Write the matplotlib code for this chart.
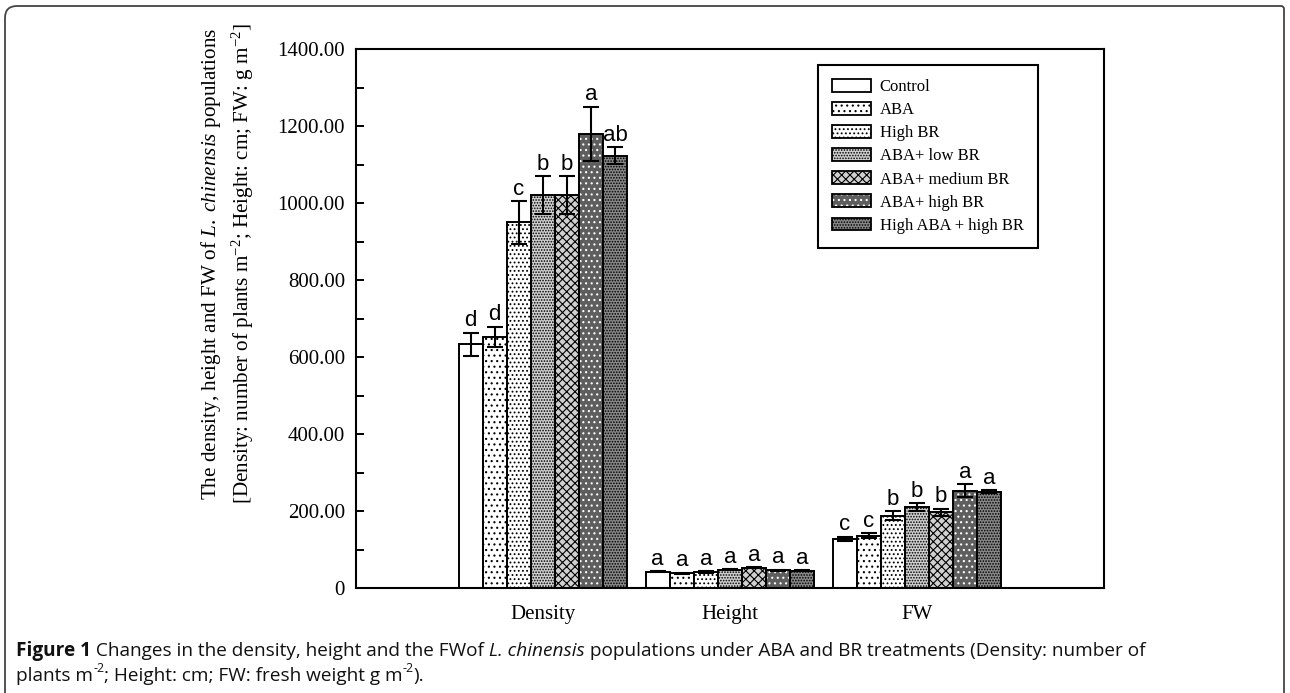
import matplotlib
matplotlib.use('Agg')
import matplotlib.pyplot as plt
import numpy as np
from matplotlib.patches import Patch, PathPatch
from matplotlib.path import Path
from matplotlib.ticker import MultipleLocator

# ---------------- data ----------------
categories = ['Density', 'Height', 'FW']
treatments = ['Control', 'ABA', 'High BR', 'ABA+ low BR', 'ABA+ medium BR',
              'ABA+ high BR', 'High ABA + high BR']

control = [633, 42, 127]
aba = [653, 38, 136]
high_br = [950, 41.6, 188]
aba_low_br = [1021, 47.6, 210]
aba_medium_br = [1021, 52.8, 197]
aba_high_br = [1180, 46, 253]
high_aba_high_br = [1123, 45, 250]

control_err = [31, 1.5, 6]
aba_err = [26, 1.5, 6]
high_br_err = [56, 1.5, 12]
aba_low_br_err = [50, 1.5, 10]
aba_medium_br_err = [50, 1.5, 9]
aba_high_br_err = [71, 1.5, 16]
high_aba_high_br_err = [22, 1.5, 4]

control_letters = ['d', 'a', 'c']
aba_letters = ['d', 'a', 'c']
high_br_letters = ['c', 'a', 'b']
aba_low_br_letters = ['b', 'a', 'b']
aba_medium_br_letters = ['b', 'a', 'b']
aba_high_br_letters = ['a', 'a', 'a']
high_aba_high_br_letters = ['ab', 'a', 'a']

y_ticks = [0, 200, 400, 600, 800, 1000, 1200, 1400]
y_tick_labels = ['0', '200.00', '400.00', '600.00', '800.00', '1000.00',
                 '1200.00', '1400.00']

series = [
    (control, control_err, control_letters),
    (aba, aba_err, aba_letters),
    (high_br, high_br_err, high_br_letters),
    (aba_low_br, aba_low_br_err, aba_low_br_letters),
    (aba_medium_br, aba_medium_br_err, aba_medium_br_letters),
    (aba_high_br, aba_high_br_err, aba_high_br_letters),
    (high_aba_high_br, high_aba_high_br_err, high_aba_high_br_letters),
]

# facecolor, hatch, hatch colour
styles = [
    ('white', '', 'black'),
    ('white', '...', 'black'),
    ('white', '....', 'black'),
    ('#cfcfcf', '......', 'black'),
    ('#d0d0d0', 'xxxx', 'black'),
    ('#5e5e5e', '...', 'white'),
    ('#888888', '......', 'black'),
]

# ---------------- figure ----------------
plt.rcParams['mathtext.fontset'] = 'custom'
plt.rcParams['mathtext.rm'] = 'Liberation Serif'
plt.rcParams['mathtext.it'] = 'Liberation Serif:italic'
plt.rcParams['mathtext.bf'] = 'Liberation Serif:bold'
plt.rcParams['hatch.linewidth'] = 0.8

W, H = 1290, 693
fig = plt.figure(figsize=(W / 100, H / 100), dpi=100)
fig.patch.set_facecolor('white')

def fx(px):
    return px / W

def fy(py):
    return 1 - py / H

ax_left, ax_right, ax_top, ax_bottom = 356, 1104, 49.3, 588
ax = fig.add_axes([fx(ax_left), fy(ax_bottom), fx(ax_right - ax_left),
                   (ax_bottom - ax_top) / H])

x = np.arange(len(categories))
w = 0.129
handles = []
for i, (vals, errs, letters) in enumerate(series):
    xpos = x + (i - 3) * w
    fc, hatch, hc = styles[i]
    ax.bar(xpos, vals, w, color=fc, edgecolor='none', linewidth=0, zorder=2)
    if hatch:
        ax.bar(xpos, vals, w, color='none', edgecolor=hc, linewidth=0,
               hatch=hatch, zorder=3)
    ax.bar(xpos, vals, w, color='none', edgecolor='black', linewidth=1.4,
           zorder=4)
    ax.errorbar(xpos, vals, yerr=errs, fmt='none', ecolor='black',
                elinewidth=1.5, capsize=5.8, capthick=1.5, zorder=5)
    for xx, v, e, lab in zip(xpos, vals, errs, letters):
        ax.annotate(lab, (xx, v + e), xytext=(0, 1.0),
                    textcoords='offset points', ha='center', va='bottom',
                    fontsize=16, family='Liberation Sans', zorder=6)
    parts = [Patch(facecolor=fc, edgecolor='none', linewidth=0)]
    if hatch:
        parts.append(Patch(facecolor='none', edgecolor=hc, linewidth=0,
                           hatch=hatch))
    parts.append(Patch(facecolor='none', edgecolor='black', linewidth=1.3))
    handles.append(tuple(parts))

ax.set_xlim(-1, 3)
ax.set_ylim(0, 1400)
ax.set_yticks(y_ticks)
ax.set_yticklabels(y_tick_labels)
ax.yaxis.set_minor_locator(MultipleLocator(100))
ax.tick_params(axis='y', which='both', direction='in', length=6, width=1.4,
               pad=8, labelsize=15)
ax.set_xticks(x)
ax.set_xticklabels(categories)
ax.tick_params(axis='x', which='both', length=0, pad=12, labelsize=15)
for lab in ax.get_xticklabels() + ax.get_yticklabels():
    lab.set_family('Liberation Serif')
for sp in ax.spines.values():
    sp.set_linewidth(1.5)

leg = ax.legend(handles, treatments, loc='upper left',
                bbox_to_anchor=((818 - ax_left) / (ax_right - ax_left),
                                (ax_bottom - 65) / (ax_bottom - ax_top)),
                borderaxespad=0, prop={'family': 'Liberation Serif', 'size': 12},
                handlelength=2.3, handleheight=0.78, handletextpad=0.55,
                labelspacing=0.42, borderpad=0.85, fancybox=False,
                framealpha=1, edgecolor='black')
leg.get_frame().set_linewidth(1.5)

# y label (two lines)
renderer = fig.canvas.get_renderer()
yl1 = fig.text(fx(211), fy(264),
               r'The density, height and FW of $\mathit{L.\ chinensis}$ populations',
               rotation=90, ha='center', va='center', family='Liberation Serif',
               fontsize=15)
yl2 = fig.text(fx(243), fy(264),
               r'[Density: number of plants m$^{-2}$; Height: cm; FW: g m$^{-2}$]',
               rotation=90, ha='center', va='center', family='Liberation Serif',
               fontsize=15)
bb = yl1.get_window_extent(renderer)
scale = 474 / bb.height
yl1.set_fontsize(15 * scale)
yl2.set_fontsize(15 * scale)

# caption
cap_font = 'Open Sans'
base = 12.0
line1 = [('Figure 1', 'normal', 'bold', 1.0, 0),
         (' Changes in the density, height and the FWof', 'normal', 'normal', 1.0, 0),
         (' L. chinensis', 'italic', 'normal', 1.0, 0),
         (' populations under ABA and BR treatments (Density: number of',
          'normal', 'normal', 1.0, 0)]
line2 = [('plants m', 'normal', 'normal', 1.0, 0),
         ('-2', 'normal', 'normal', 0.65, 0.45),
         ('; Height: cm; FW: fresh weight g m', 'normal', 'normal', 1.0, 0),
         ('-2', 'normal', 'normal', 0.65, 0.45),
         (').', 'normal', 'normal', 1.0, 0)]


def measure(segs, size):
    total = 0
    for s, st, wt, rel, rise in segs:
        t = fig.text(0, 0, s, family=cap_font, style=st, weight=wt,
                     fontsize=size * rel)
        total += t.get_window_extent(renderer).width
        t.remove()
    return total

w1 = measure(line1, base)
size = base * (1142 - 16) / w1


def place(segs, x0, baseline):
    xp = x0
    for s, st, wt, rel, rise in segs:
        t = fig.text(fx(xp), fy(baseline - rise * size * 100 / 72), s,
                     family=cap_font, style=st, weight=wt,
                     fontsize=size * rel, ha='left', va='baseline',
                     color='#111111')
        xp += t.get_window_extent(renderer).width

place(line1, 16, 656)
place(line2, 16, 681)

# outer rounded frame
r = 12
verts = [(5, 720), (5, 6 + r), (5, 6), (5 + r, 6), (1284 - 3, 6), (1284, 6),
         (1284, 6 + 3), (1284, 720)]
codes = [Path.MOVETO, Path.LINETO, Path.CURVE3, Path.CURVE3, Path.LINETO,
         Path.CURVE3, Path.CURVE3, Path.LINETO]
verts_f = [(fx(a), fy(b)) for a, b in verts]
frame = PathPatch(Path(verts_f, codes), facecolor='none', edgecolor='#444444',
                  linewidth=1.3, transform=fig.transFigure, clip_on=False)
fig.add_artist(frame)

fig.savefig('out.png', dpi=100, facecolor='white')
